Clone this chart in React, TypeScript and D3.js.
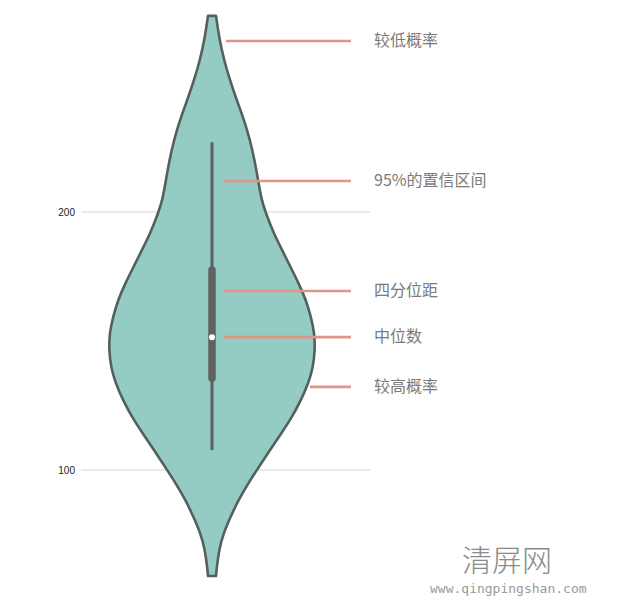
import React, { useRef, useEffect } from "react";
import * as d3 from "d3";

// violin outline: value -> relative density
const densityValues = [
  276, 266.7, 258.9, 251.2, 243.4, 235.7, 227.9, 220.2, 212.4, 204.7, 200, 191.9, 185.3,
  178.7, 172.5, 165.9, 159.3, 153.1, 146.5, 139.9, 133.7, 127.1, 120.5, 114.3, 107.8,
  101.2, 95.0, 88.4, 81.8, 75.6, 69.0, 62.4, 58.9,
];
const densities = [
  0.039, 0.073, 0.117, 0.173, 0.24, 0.311, 0.369, 0.413, 0.447, 0.481, 0.519, 0.597, 0.68,
  0.762, 0.84, 0.913, 0.961, 0.995, 1, 0.981, 0.937, 0.864, 0.777, 0.675, 0.563, 0.456,
  0.354, 0.257, 0.18, 0.112, 0.068, 0.047, 0.039,
];

// box plot stats
const whisker = [107.8, 227];
const quartiles = [135.6, 177.5];
const median = 151.5;

const yTicks = [100, 200];

// annotations: value on the axis, label, where the line starts (share of width)
const annotationValues = [266.3, 212, 169.4, 151.5, 132.2];
const annotationLabels = ["较低概率", "95%的置信区间", "四分位距", "中位数", "较高概率"];
const annotationStart = [0.08, 0.07, 0.07, 0.07, 0.5];

function App() {
  const svgRef = useRef(null);

  useEffect(() => {
    const svg = d3.select(svgRef.current);
    svg.selectAll("*").remove();

    const yScale = d3.scaleLinear().domain([100, 200]).range([470, 212]);
    const xBand = d3.scaleBand().domain(["violin"]).range([80, 344]);
    const cx = xBand("violin") + xBand.bandwidth() / 2;
    const wScale = d3.scaleLinear().domain([0, d3.max(densities)]).range([0, 103]);

    // grid lines + tick labels
    const grid = svg.append("g");
    grid
      .selectAll("line")
      .data(yTicks)
      .join("line")
      .attr("x1", 81)
      .attr("x2", 370)
      .attr("y1", (d) => yScale(d))
      .attr("y2", (d) => yScale(d))
      .attr("stroke", "#d4d4d4")
      .attr("stroke-width", 1);
    grid
      .selectAll("text")
      .data(yTicks)
      .join("text")
      .attr("x", 75)
      .attr("y", (d) => yScale(d))
      .attr("dy", "0.35em")
      .attr("text-anchor", "end")
      .attr("font-family", "Liberation Sans, Arial, sans-serif")
      .attr("font-size", 10)
      .attr("fill", "#222")
      .text((d) => d);

    // violin body
    const pts = densityValues.map((v, i) => ({ v, d: densities[i] }));
    const area = d3
      .area()
      .y((p) => yScale(p.v))
      .x0((p) => cx - wScale(p.d))
      .x1((p) => cx + wScale(p.d))
      .curve(d3.curveBasis);
    svg
      .append("path")
      .datum(pts)
      .attr("d", area)
      .attr("fill", "#94cbc3")
      .attr("stroke", "#53605e")
      .attr("stroke-width", 2.6)
      .attr("stroke-linejoin", "round");

    // inner box plot
    svg
      .append("line")
      .attr("x1", cx)
      .attr("x2", cx)
      .attr("y1", yScale(whisker[1]))
      .attr("y2", yScale(whisker[0]))
      .attr("stroke", "#5b6163")
      .attr("stroke-width", 3);
    svg
      .append("line")
      .attr("x1", cx)
      .attr("x2", cx)
      .attr("y1", yScale(quartiles[1]))
      .attr("y2", yScale(quartiles[0]))
      .attr("stroke", "#606163")
      .attr("stroke-width", 7.5)
      .attr("stroke-linecap", "round");
    svg
      .append("circle")
      .attr("cx", cx)
      .attr("cy", yScale(median))
      .attr("r", 3)
      .attr("fill", "#fff");

    // annotations
    const notes = svg
      .append("g")
      .selectAll("g")
      .data(annotationValues)
      .join("g");
    notes
      .append("line")
      .attr("x1", (d, i) => cx - 2 + annotationStart[i] * 200)
      .attr("x2", 351)
      .attr("y1", (d) => yScale(d))
      .attr("y2", (d) => yScale(d))
      .attr("stroke", "#e09587")
      .attr("stroke-width", 2.6);
    notes
      .append("text")
      .attr("x", 374)
      .attr("y", (d) => yScale(d) - 2)
      .attr("dominant-baseline", "central")
      .attr("font-family", "Noto Sans CJK SC, sans-serif")
      .attr("font-size", 16)
      .attr("fill", "#7a7a7a")
      .text((d, i) => annotationLabels[i]);

    // site watermark, bottom right
    svg
      .append("text")
      .attr("x", 462)
      .attr("y", 571)
      .attr("font-family", "Noto Sans CJK SC, sans-serif")
      .attr("font-size", 30)
      .attr("font-weight", 300)
      .attr("fill", "#8a8a8a")
      .text("清屏网");
    svg
      .append("text")
      .attr("x", 430)
      .attr("y", 593)
      .attr("font-family", "DejaVu Sans Mono, Liberation Mono, monospace")
      .attr("font-size", 13)
      .attr("fill", "#9a9a9a")
      .text("www.qingpingshan.com");
  }, []);

  return (
    <svg
      ref={svgRef}
      width={630}
      height={604}
      style={{ position: "absolute", left: 0, top: 0, background: "#fff" }}
    />
  );
}

export default App;
